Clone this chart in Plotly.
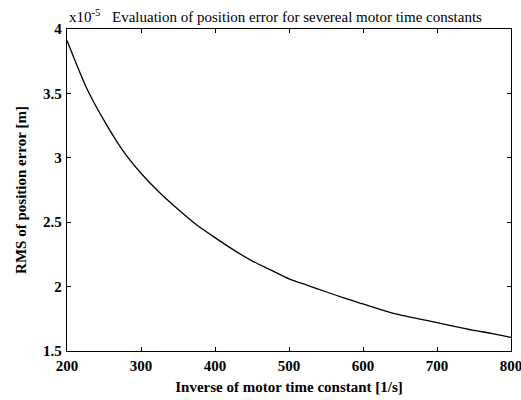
import plotly.graph_objects as go

# Inverse of motor time constant [1/s]
inv_time_constant = [200, 225, 250, 275, 300, 325, 350, 375, 400, 425, 450, 475, 500,
                     525, 550, 575, 600, 625, 650, 675, 700, 725, 750, 775, 800]
# RMS of position error, in units of 1e-5 m
rms_error = [3.91, 3.56, 3.29, 3.06, 2.88, 2.73, 2.60, 2.48, 2.38, 2.285, 2.20, 2.13, 2.06,
             2.01, 1.96, 1.91, 1.865, 1.82, 1.78, 1.75, 1.72, 1.69, 1.66, 1.635, 1.605]

x_ticks = [200, 300, 400, 500, 600, 700, 800]
y_ticks = [1.5, 2, 2.5, 3, 3.5, 4]
y_tick_text = ["1.5", "2", "2.5", "3", "3.5", "4"]

serif = "Liberation Serif, Times New Roman, serif"

fig = go.Figure()
fig.add_trace(go.Scatter(
    x=inv_time_constant, y=rms_error, mode="lines",
    line=dict(color="black", width=1.3, shape="spline", smoothing=0.6),
    showlegend=False,
))

axis_common = dict(
    showgrid=False, zeroline=False, showline=True, linecolor="black", linewidth=1.3,
    mirror="ticks", ticks="inside", ticklen=4, tickcolor="black", tickwidth=1,
    tickfont=dict(family=serif, size=15, color="black"), automargin=False,
    ticklabeloverflow="allow",
)

fig.update_layout(
    width=521, height=400,
    margin=dict(l=67, r=10, t=29, b=49),
    paper_bgcolor="white", plot_bgcolor="white",
    xaxis=dict(range=[200, 800], tickvals=x_ticks,
               ticktext=[f"<b>{t}</b>" for t in x_ticks], ticklabelstandoff=1,
               title=dict(text="<b>Inverse of motor time constant [1/s]</b>",
                          font=dict(family=serif, size=15, color="black"), standoff=8),
               **axis_common),
    yaxis=dict(range=[1.5, 4], tickvals=y_ticks,
               ticktext=[f"<b>{t}</b>" for t in y_tick_text], ticklabelstandoff=1,
               title=dict(text="<b>RMS of position error [m]</b>",
                          font=dict(family=serif, size=15, color="black"), standoff=12),
               **axis_common),
)

fig.add_annotation(
    xref="paper", yref="paper", x=0, y=1, xanchor="left", yanchor="bottom", yshift=2,
    text="x10<sup>-5</sup>", showarrow=False,
    font=dict(family=serif, size=15, color="black"),
)
fig.add_annotation(
    xref="paper", yref="paper", x=0.5, y=1, xanchor="center", yanchor="bottom", yshift=2,
    xshift=8,
    text="Evaluation of position error for severeal motor time constants", showarrow=False,
    font=dict(family=serif, size=15, color="black"),
)

fig.write_html("out.html")
